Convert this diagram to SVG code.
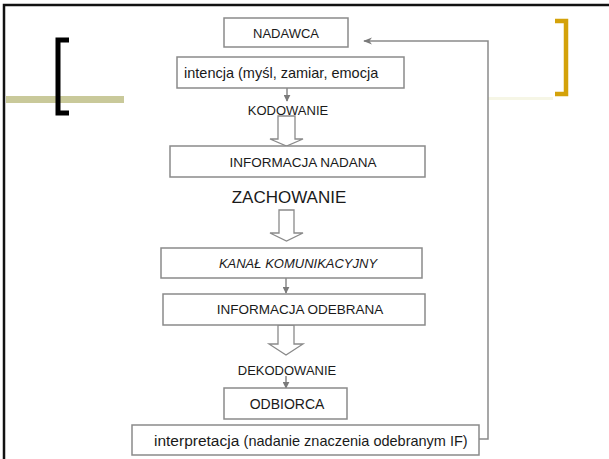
<svg xmlns="http://www.w3.org/2000/svg" width="609" height="459" viewBox="0 0 609 459">
<defs>
<style>
.box{fill:#fff;stroke:#8a8a8a;stroke-width:1.5}
.t{font-family:"Liberation Sans",Arial,sans-serif;fill:#1a1a1a;text-anchor:middle}
.ln{fill:none;stroke:#8a8a8a;stroke-width:1.5}
.blk{fill:#fff;stroke:#8a8a8a;stroke-width:1.3}
</style>
<marker id="ah" viewBox="0 0 10 10" refX="9" refY="5" markerWidth="7" markerHeight="7" markerUnits="userSpaceOnUse" orient="auto">
<path d="M0,0 L10,5 L0,10 z" fill="#7a7a7a"/>
</marker>
<marker id="ah2" viewBox="0 0 10 10" refX="9" refY="5" markerWidth="9" markerHeight="9" markerUnits="userSpaceOnUse" orient="auto">
<path d="M0,1 L10,5 L0,9 L3,5 z" fill="#7a7a7a"/>
</marker>
</defs>
<rect width="609" height="459" fill="#fff"/>
<g id="frame">
<path d="M4,459 V5 H609" fill="none" stroke="#111" stroke-width="2.5"/>
<rect x="6" y="96" width="118" height="7" fill="#c9c99a"/>
<path d="M69,40 H58 V113 H69" fill="none" stroke="#000" stroke-width="5"/>
<rect x="488" y="97" width="65" height="3" fill="#f6f6e6"/>
<path d="M555,21 H566 V94 H555" fill="none" stroke="#d4a20a" stroke-width="4.5"/>
</g>
<g id="connectors">
<line class="ln" x1="287" y1="88" x2="287" y2="101" marker-end="url(#ah)"/>
<path class="blk" d="M278,116 H295 V139 H303 L286.5,146 L270,139 H278 Z"/>
<path class="blk" d="M279,210 H294 V233 H303 L286.5,241 L270,233 H279 Z"/>
<line class="ln" x1="286" y1="278" x2="286" y2="293" marker-end="url(#ah)"/>
<path class="blk" d="M278,325 H294 V344 H303 L286,355 L269,344 H278 Z"/>
<line class="ln" x1="286" y1="376" x2="286" y2="388" marker-end="url(#ah)"/>
<path class="ln" d="M479,439 H488 V41 H364" marker-end="url(#ah2)"/>
</g>
<g id="nadawca">
<rect class="box" x="224" y="18" width="124" height="29"/>
<text class="t" x="286" y="38" font-size="13">NADAWCA</text>
</g>
<g id="intencja">
<rect class="box" x="177" y="57" width="227" height="31"/>
<text class="t" x="184" y="78" font-size="14.5" style="text-anchor:start">intencja (myśl, zamiar, emocja</text>
</g>
<g id="kodowanie">
<text class="t" x="288" y="115" font-size="13">KODOWANIE</text>
</g>
<g id="informacja-nadana">
<rect class="box" x="170" y="146" width="255" height="31"/>
<text class="t" x="303" y="167" font-size="13.5">INFORMACJA NADANA</text>
</g>
<g id="zachowanie">
<text class="t" x="289" y="203" font-size="17">ZACHOWANIE</text>
</g>
<g id="kanal">
<rect class="box" x="161" y="248" width="261" height="30"/>
<text class="t" x="298" y="268" font-size="13" font-style="italic">KANAŁ KOMUNIKACYJNY</text>
</g>
<g id="informacja-odebrana">
<rect class="box" x="163" y="294" width="262" height="31"/>
<text class="t" x="300" y="314" font-size="13.5">INFORMACJA ODEBRANA</text>
</g>
<g id="dekodowanie">
<text class="t" x="287" y="375" font-size="13">DEKODOWANIE</text>
</g>
<g id="odbiorca">
<rect class="box" x="224" y="388" width="123" height="31"/>
<text class="t" x="287" y="409" font-size="14">ODBIORCA</text>
</g>
<g id="interpretacja">
<rect class="box" x="132" y="425" width="347" height="30"/>
<text class="t" x="154" y="446" style="text-anchor:start"><tspan font-size="15.5">interpretacja </tspan><tspan font-size="14.5">(nadanie znaczenia odebranym IF)</tspan></text>
</g>
</svg>
